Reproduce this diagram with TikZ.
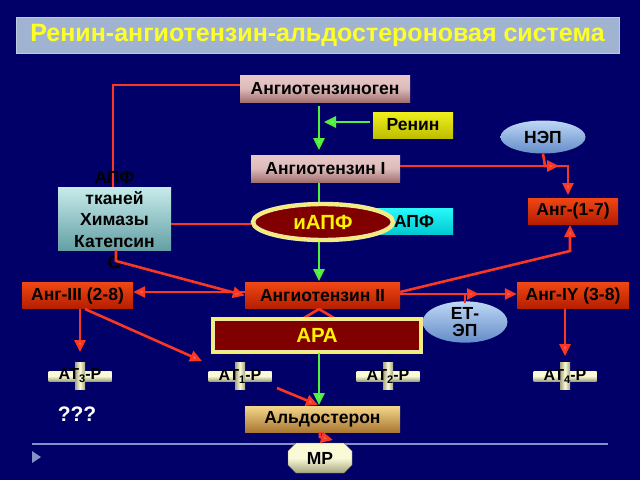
\documentclass[tikz,border=0pt]{standalone}
\usepackage{fontspec}
\setmainfont{Liberation Sans}
\usetikzlibrary{arrows.meta,shapes.geometric,shapes.misc}
\definecolor{bgc}{RGB}{0,0,104}
\definecolor{titlebg}{RGB}{160,180,210}
\definecolor{titlefg}{RGB}{255,255,40}
\definecolor{pinkT}{RGB}{232,200,200}
\definecolor{pinkB}{RGB}{160,112,112}
\definecolor{redT}{RGB}{240,70,20}
\definecolor{redB}{RGB}{180,30,0}
\definecolor{yelT}{RGB}{240,240,30}
\definecolor{yelB}{RGB}{190,190,0}
\definecolor{cyT}{RGB}{40,250,250}
\definecolor{cyB}{RGB}{0,200,210}
\definecolor{tealT}{RGB}{200,235,235}
\definecolor{tealB}{RGB}{100,160,165}
\definecolor{blT}{RGB}{190,215,245}
\definecolor{blB}{RGB}{100,140,200}
\definecolor{goldT}{RGB}{245,215,140}
\definecolor{goldB}{RGB}{170,120,50}
\definecolor{creamT}{RGB}{250,250,215}
\definecolor{creamB}{RGB}{165,165,130}
\definecolor{darkred}{RGB}{128,0,0}
\definecolor{rim}{RGB}{240,230,170}
\definecolor{arrred}{RGB}{250,55,35}
\definecolor{arrgreen}{RGB}{80,240,60}
\definecolor{linec}{RGB}{130,145,200}
\tikzset{
  txt/.style={font=\bfseries\fontsize{17.5}{19}\selectfont, text=black},
  box/.style={rectangle, inner sep=0pt, txt},
  pinkbox/.style={box, top color=pinkT, bottom color=pinkB, middle color=pinkT!85!pinkB},
  redbox/.style={box, top color=redT, bottom color=redB},
  yelbox/.style={box, top color=yelT, bottom color=yelB},
  goldbox/.style={box, top color=goldT, bottom color=goldB},
  blueell/.style={ellipse, inner sep=0pt, txt, top color=blT, bottom color=blB},
  rimmed/.style={draw=rim, line width=1.3pt, double=rim!60!yellow, double distance=1.8pt, fill=darkred,
    font=\bfseries\fontsize{20.5}{22}\selectfont, text=yellow, inner sep=0pt},
  hbar/.style={rectangle, inner sep=0pt, minimum width=63pt, minimum height=10pt, top color=creamT, bottom color=creamB, middle color=creamT},
  vbar/.style={rectangle, inner sep=0pt, minimum width=10pt, minimum height=27pt, left color=creamB, right color=creamB, middle color=creamT},
  rtxt/.style={font=\bfseries\fontsize{16}{16}\selectfont, text=black},
  redline/.style={draw=arrred, line width=2.6pt},
  redarr/.style={redline, -{Triangle[length=12pt,width=11pt,fill=arrred!80!white]}},
  greenarr/.style={draw=arrgreen, line width=2.6pt, -{Triangle[length=12pt,width=11pt,fill=arrgreen!80!white]}},
}
\newcommand{\recep}[3]{%
  \node[hbar] (#1) at #2 {};
  \node[vbar] at #2 {};
  \node[rtxt] at #2 {АТ\raisebox{-3pt}{\fontsize{11}{11}\selectfont #3}-Р};
}
\begin{document}
\begin{tikzpicture}[x=1pt,y=-1pt]
\fill[bgc] (0,0) rectangle (640,480);
\useasboundingbox (0,0) rectangle (640,480);
% title
\node[rectangle, fill=titlebg, draw=titlebg!70!white, line width=0.6pt, minimum width=603pt, minimum height=36pt, inner sep=0pt,
  font=\bfseries\fontsize{25}{27}\selectfont, text=titlefg] (title) at (317.5,35) {Ренин-ангиотензин-альдостероновая система};
% nodes
\node[pinkbox, minimum width=170pt, minimum height=27pt] (agen) at (325,88.5) {Ангиотензиноген};
\node[yelbox, minimum width=80pt, minimum height=26pt] (renin) at (413,125) {Ренин};
\node[pinkbox, minimum width=149pt, minimum height=27pt] (angI) at (325.5,168.5) {Ангиотензин I};
\node[blueell, minimum width=85pt, minimum height=33pt] (nep) at (543,137) {НЭП};
\node[redbox, minimum width=90pt, minimum height=26pt] (ang17) at (573,211) {Анг-(1-7)};
\node[box, top color=cyT, bottom color=cyB, minimum width=93pt, minimum height=26pt] (ace) at (406.5,221) {};
\node[txt] at (414,221) {АПФ};
% tissue box
\node[box, top color=tealT, bottom color=tealB, minimum width=113pt, minimum height=63pt] (tis) at (114.5,218.5) {};
\node[redbox, minimum width=155pt, minimum height=26pt] (angII) at (322.5,295.5) {Ангиотензин II};
\node[redbox, minimum width=111pt, minimum height=26pt] (angIII) at (77.5,295.5) {Анг-III (2-8)};
\node[redbox, minimum width=112pt, minimum height=26pt] (angIV) at (573,295.5) {Анг-IY (3-8)};
\node[goldbox, minimum width=155pt, minimum height=26pt] (ald) at (322.5,419) {Альдостерон};
% lines to tissue box
\draw[redline] (agen.west |- 0,85) -- (113,85) -- (113,187);
\node[txt, align=center, font=\bfseries\fontsize{17.5}{21.3}\selectfont] at (114.5,220) {АПФ\\тканей\\Химазы\\Катепсин\\G};
% green main arrows
\draw[greenarr] (agen.south) ++(-6,4) -- (319,150);
\draw[greenarr] (renin.west) ++(-3,-3) -- (324,122);
\draw[greenarr] (319,183) -- (319,281);
% иАПФ
\draw[redline] (tis.east |- 0,224) -- (253,224);
\node[rimmed, ellipse, minimum width=140pt, minimum height=36pt] (iace) at (323,222) {иАПФ};
% tissue to Ang II
\draw[redarr] (116,250) -- (116,261) -- (angII.west);
% Ang I to Ang 1-7
\draw[redarr] (angI.east |- 0,166) -- (568,166) -- (568,195);
\draw[redarr] (nep.south) -- (545,166) -- (559,166);
% Ang II branches
\draw[redarr] (angII.west |- 0,292) -- (angIII.east |- 0,292);
\draw[redarr] (angII.east |- 0,294) -- (angIV.west |- 0,294);
\draw[redarr] (angII.east |- 0,292) -- (570,251) -- (570,225);
\node[blueell, minimum width=85pt, minimum height=38pt, align=center, font=\bfseries\fontsize{17.5}{17}\selectfont] (etep) at (465,322) {ЕТ-\\ЭП};
\draw[redarr] (465,303) -- (465,294) -- (479,294);
% ARA
\draw[redline] (319,309) -- (304,318) (319,309) -- (334,318);
\node[rimmed, rectangle, minimum width=208pt, minimum height=33pt] (ara) at (317,335.5) {АРА};
\draw[greenarr] (ara.south -| 319,0) -- (319,405);
% receptors
\recep{at3}{(80,376)}{3}
\recep{at1}{(240,376)}{1}
\recep{at2}{(388,376)}{2}
\recep{at4}{(565,376)}{4}
\draw[redarr] (80,309) -- (80,352);
\draw[redarr] (85,309) -- (202,361);
\draw[redarr] (565,309) -- (565,356);
\draw[redarr] (277,388) -- (318,405);
% bottom line
\draw[linec, line width=1.2pt] (32,444) -- (608,444);
\fill[linec] (32,451) -- (41,457) -- (32,463) -- cycle;
\node[font=\bfseries\fontsize{21}{21}\selectfont, text=white] (q) at (77,414) {???};
\node[chamfered rectangle, chamfered rectangle xsep=4pt, chamfered rectangle ysep=4pt, inner sep=0pt, minimum width=64pt, minimum height=30pt,
  top color=creamT, bottom color=creamB, middle color=creamT, draw=creamB!70!black, line width=0.4pt, txt] (mr) at (320,458) {МР};
\draw[redarr] (ald.south -| 320,0) -- (320,437) -- (333,440);
\end{tikzpicture}
\end{document}
